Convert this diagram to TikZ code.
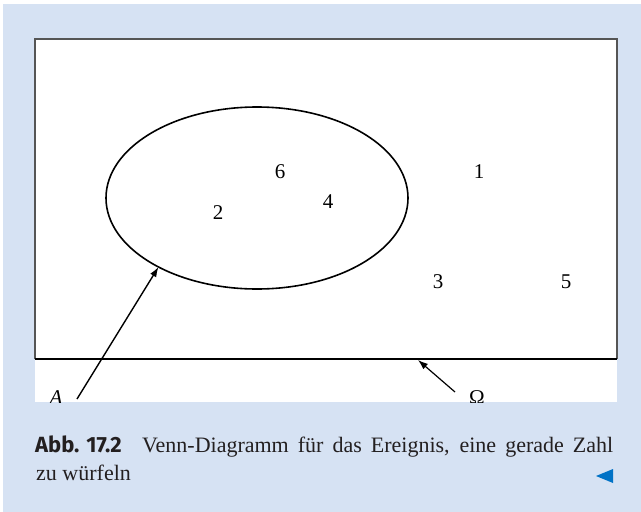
\documentclass[tikz,border=0pt]{standalone}
\usepackage{fontspec}
\setmainfont{Liberation Serif}
\newfontfamily\capfont{Fira Sans}
\usetikzlibrary{shapes.geometric, arrows.meta}
\definecolor{pageblue}{RGB}{214,226,243}
\definecolor{markblue}{RGB}{0,114,198}
\definecolor{framegray}{RGB}{85,85,85}
\definecolor{captext}{RGB}{35,31,32}

\begin{document}
\begin{tikzpicture}[x=1pt, y=-1pt,
    num/.style={font=\fontsize{21}{25}\selectfont, inner sep=0pt},
    pointer/.style={-{Latex[length=10pt, width=7pt]}, line width=1.4pt},
    captxt/.style={anchor=base west, inner sep=0pt, text=captext, font=\fontsize{22}{27}\selectfont}]
    \useasboundingbox (0,0) rectangle (641,512);
    \fill[white] (0,0) rectangle (641,512);
    \fill[pageblue] (3,4) rectangle (641,512);
    \fill[white] (35,39) rectangle (617,402);

    \coordinate (bl) at (35,359);
    \coordinate (br) at (617,359);
    \coordinate (omtip) at (418,360);
    \coordinate (omtail) at (455,392);
    \coordinate (atail) at (77,399);
    \draw[framegray, line width=1.5pt] (bl) -- (35,39) -- (617,39) -- (br);
    \draw[line width=2pt] (bl) -- (br);

    \node[ellipse, draw, line width=1.6pt, minimum width=302pt, minimum height=182pt, inner sep=0pt, outer sep=0pt] (setA) at (257,198) {};
    \node[num] (n6) at (280,172) {6};
    \node[num] (n2) at (218,213) {2};
    \node[num] (n4) at (328,202) {4};
    \node[num] (n1) at (479,172) {1};
    \node[num] (n3) at (438,282) {3};
    \node[num] (n5) at (566,282) {5};

    \begin{scope}
        \clip (35,39) rectangle (617,402);
        \node[num, font=\fontsize{21}{25}\selectfont\itshape] (labA) at (56,398) {A};
        \node[num] (labOmega) at (477,398) {Ω};
        \draw[pointer] (atail) -- (setA.215);
        \draw[pointer, line width=1.2pt] (omtail) -- (omtip);
    \end{scope}

    \node[captxt, font=\capfont\bfseries\fontsize{22}{27}\selectfont] (abb) at (35,452.7) {Abb. 17.2};
    \node[captxt] (cap1) at (142,452.7) {\makebox[471pt][s]{Venn-Diagramm für das Ereignis, eine gerade Zahl}};
    \node[captxt] (cap2) at (36,480) {zu würfeln};
    \fill[markblue] (596,476) -- (613,469) -- (613,483) -- cycle;
\end{tikzpicture}
\end{document}
